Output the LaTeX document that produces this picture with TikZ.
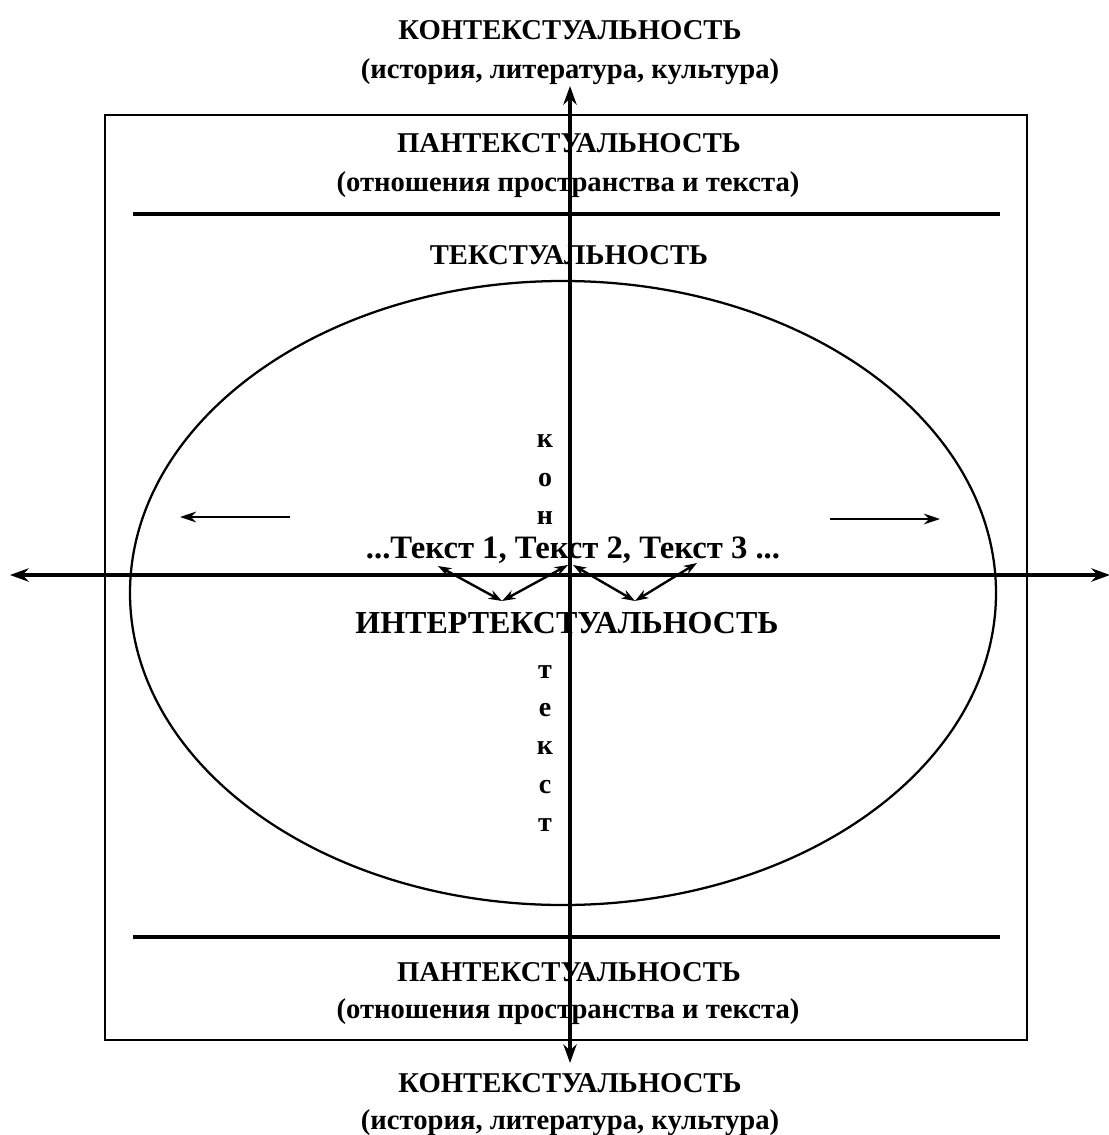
\documentclass[tikz,border=0pt]{standalone}
\usepackage{fontspec}
\setmainfont{Liberation Serif}
\usetikzlibrary{arrows.meta}
\begin{document}
\begin{tikzpicture}[x=0.75pt,y=-0.75pt,
  lbl/.style={font=\fontsize{21.5}{24}\selectfont\bfseries, inner sep=0pt, anchor=center},
  big/.style={font=\fontsize{24}{28}\selectfont\bfseries, inner sep=0pt, anchor=center},
  vlet/.style={font=\fontsize{21}{22}\selectfont\bfseries, inner sep=0pt, anchor=center},
  axis/.style={line width=2.4pt, {Stealth[length=14pt,width=10pt]}-{Stealth[length=14pt,width=10pt]}},
  thin/.style={line width=1.7pt},
  dbl/.style={line width=1.8pt, {Stealth[length=10pt,width=7pt]}-{Stealth[length=10pt,width=7pt]}},
  sarr/.style={line width=1.8pt, -{Stealth[length=12pt,width=8pt]}}]
\useasboundingbox (0,0) rectangle (1108,1135);
% frame
\draw[thin] (105,115) rectangle (1027,1040);
\draw[line width=2.6pt] (133,214) -- (1000,214);
\draw[line width=3pt] (133,937) -- (1000,937);
% ellipse
\draw[thin] (563,593) ellipse [x radius=433, y radius=312];
% axes
\coordinate (vb) at (570,1063);
\coordinate (vt) at (570,86);
\coordinate (hl) at (10,575);
\coordinate (hr) at (1110,575);
\draw[axis] (vb) -- (vt);
\draw[axis] (hl) -- (hr);
% texts
\node[lbl] (k1) at (570,30) {КОНТЕКСТУАЛЬНОСТЬ};
\node[lbl] (k1b) at (570,72) {(история, литература, культура)};
\node[lbl] (p1) at (569,143) {ПАНТЕКСТУАЛЬНОСТЬ};
\node[lbl] (p1b) at (568,185) {(отношения пространства и текста)};
\node[lbl] (t) at (569,255) {ТЕКСТУАЛЬНОСТЬ};
\node[vlet] (v1) at (545,441) {к};
\node[vlet] (v2) at (545,480) {о};
\node[vlet] (v3) at (545,518) {н};
\node[vlet] (v4) at (545,672) {т};
\node[vlet] (v5) at (545,710) {е};
\node[vlet] (v6) at (545,748) {к};
\node[vlet] (v7) at (545,787) {с};
\node[vlet] (v8) at (545,825) {т};
\node[big,font=\fontsize{24.5}{28}\selectfont\bfseries] (tx) at (573,550) {...Текст 1, Текст 2, Текст 3 ...};
\node[big] (it) at (567,623) {ИНТЕРТЕКСТУАЛЬНОСТЬ};
\node[lbl] (p2) at (569,972) {ПАНТЕКСТУАЛЬНОСТЬ};
\node[lbl] (p2b) at (568,1012) {(отношения пространства и текста)};
\node[lbl] (k2) at (570,1083) {КОНТЕКСТУАЛЬНОСТЬ};
\node[lbl] (k2b) at (570,1123) {(история, литература, культура)};
% side arrows
\coordinate (la) at (290,517); \coordinate (lb) at (180,517);
\coordinate (ra) at (830,519); \coordinate (rb) at (940,519);
\draw[sarr] (la) -- (lb);
\draw[sarr] (ra) -- (rb);
% intertext arrows
\coordinate (a1) at (438,566);
\coordinate (a2) at (502,601);
\coordinate (a3) at (568,565);
\coordinate (a4) at (573,565);
\coordinate (a5) at (635,601);
\coordinate (a6) at (697,563);
\draw[dbl] (a1) -- (a2);
\draw[dbl] (a2) -- (a3);
\draw[dbl] (a4) -- (a5);
\draw[dbl] (a5) -- (a6);
\end{tikzpicture}
\end{document}
